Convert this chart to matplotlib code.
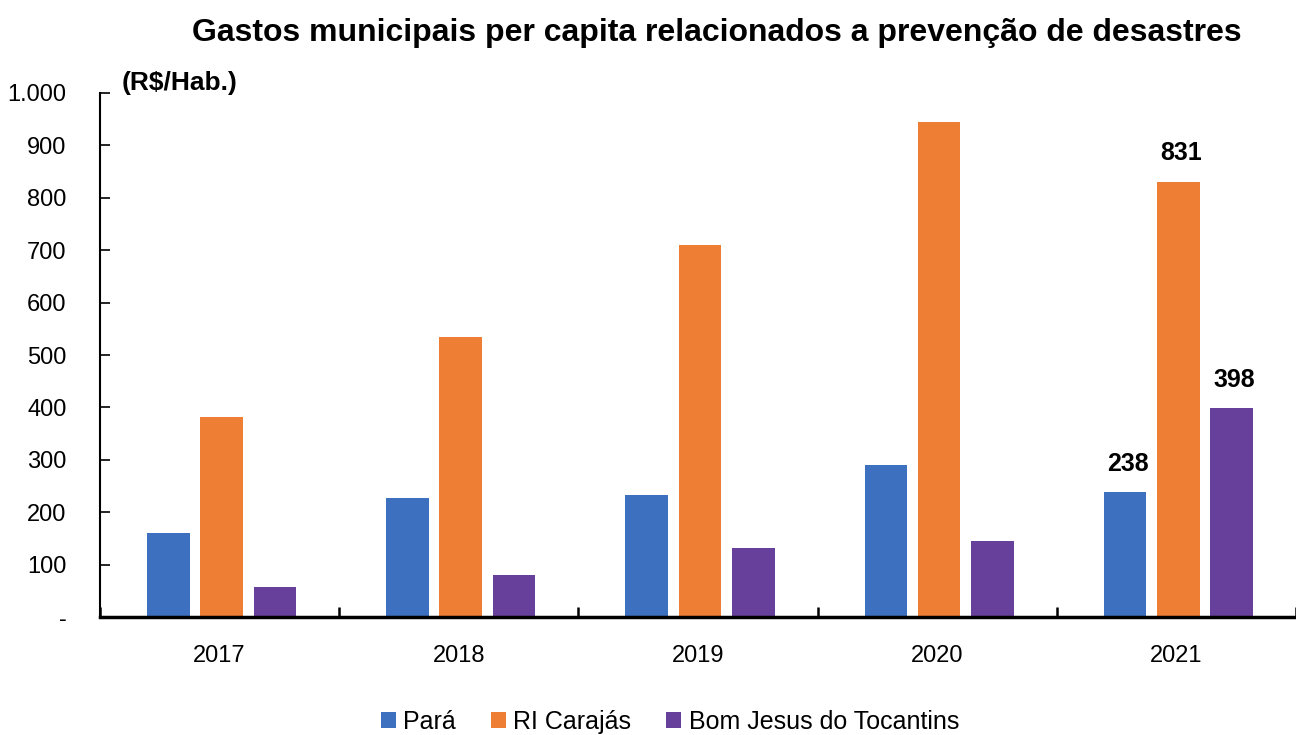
from matplotlib import pyplot as plt
import numpy as np

plt.rcParams['font.family'] = ['Liberation Sans', 'DejaVu Sans']

years = ["2017", "2018", "2019", "2020", "2021"]
para = [160, 227, 233, 291, 238]
ri_carajas = [382, 535, 709, 944, 831]
bom_jesus = [58, 80, 131, 145, 398]
series_names = ["Pará", "RI Carajás", "Bom Jesus do Tocantins"]
colors = ["#3D70BF", "#EE7E33", "#66409A"]

fig = plt.figure(figsize=(12.96, 7.35), dpi=100)
ax = fig.add_axes([0.0772, 0.1605, 0.9228, 0.713])

x = np.arange(len(years))
step = 0.223
width = 0.178
for i, (vals, name) in enumerate(zip([para, ri_carajas, bom_jesus], series_names)):
    ax.bar(x + (i - 1) * step + 0.008, vals, width, color=colors[i], label=name)

# only the last year gets value labels
for i, vals in enumerate([para, ri_carajas, bom_jesus]):
    ax.annotate(str(vals[-1]), (x[-1] + (i - 1) * step + 0.02, vals[-1]),
                xytext=(0, 12), textcoords="offset points",
                ha="center", va="bottom", fontsize=18, fontweight="bold")

ax.set_ylim(0, 1000)
ax.set_xlim(-0.5, 4.41)
ax.set_yticks(range(0, 1001, 100))
ax.set_yticklabels(["-"] + [f"{v:,}".replace(",", ".") for v in range(100, 1001, 100)])
ax.tick_params(axis="y", direction="in", length=7, width=1.2, pad=24, labelsize=17)

ax.set_xticks(x)
ax.set_xticklabels(years)
ax.set_xticks(np.arange(-0.5, 5, 1), minor=True)
ax.tick_params(axis="x", which="major", length=0, pad=20, labelsize=17)
ax.tick_params(axis="x", which="minor", direction="in", length=7, width=1.8)

for side in ["top", "right"]:
    ax.spines[side].set_visible(False)
ax.spines["left"].set_linewidth(1.5)
ax.spines["bottom"].set_linewidth(2.5)

fig.text(0.553, 0.955, "Gastos municipais per capita relacionados a prevenção de desastres",
         ha="center", va="center", fontsize=23, fontweight="bold")
fig.text(0.094, 0.887, "(R$/Hab.)", ha="left", va="center", fontsize=19, fontweight="bold")

fig.legend(loc="center", bbox_to_anchor=(0.517, 0.018), ncol=3, frameon=False,
           fontsize=18, handlelength=0.6, handleheight=0.6, handletextpad=0.3,
           columnspacing=1.4)

plt.savefig("out.png", dpi=100)
